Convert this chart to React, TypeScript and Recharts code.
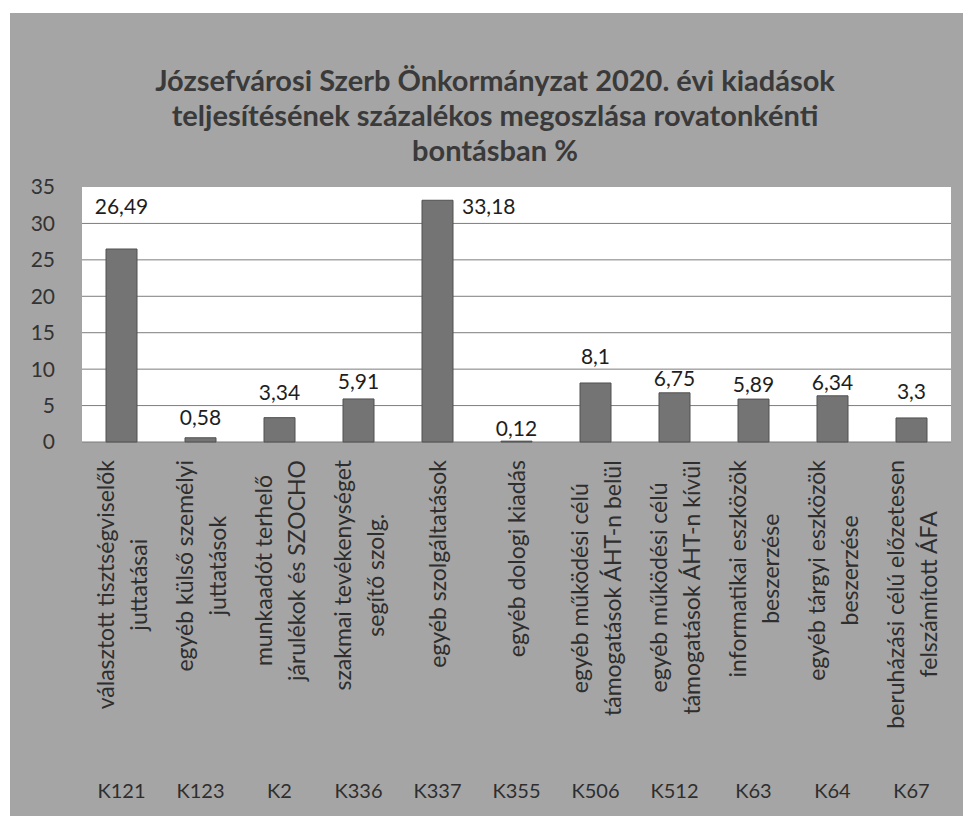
import React from "react"
import { BarChart, Bar, XAxis, YAxis, CartesianGrid } from "recharts"

const categories = ["K121", "K123", "K2", "K336", "K337", "K355", "K506", "K512", "K63", "K64", "K67"]

const shares = [26.49, 0.58, 3.34, 5.91, 33.18, 0.12, 8.1, 6.75, 5.89, 6.34, 3.3]

const descriptions = [
    ["választott tisztségviselők", "juttatásai"],
    ["egyéb külső személyi", "juttatások"],
    ["munkaadót terhelő", "járulékok és SZOCHO"],
    ["szakmai tevékenységet", "segítő szolg."],
    ["egyéb szolgáltatások"],
    ["egyéb dologi kiadás"],
    ["egyéb működési célú", "támogatások ÁHT-n belül"],
    ["egyéb működési célú", "támogatások ÁHT-n kívül"],
    ["informatikai eszközök", "beszerzése"],
    ["egyéb tárgyi eszközök", "beszerzése"],
    ["beruházási célú előzetesen", "felszámított ÁFA"],
]

const yTicks = [0, 5, 10, 15, 20, 25, 30, 35]

const titleLines = [
    "Józsefvárosi Szerb Önkormányzat 2020. évi kiadások",
    "teljesítésének százalékos megoszlása rovatonkénti",
    "bontásban %",
]

// how far above the bar top each value label sits (excel moved some by hand)
const labelLift = [44, 21, 26, 18, 0, 14, 27, 15, 16, 14, 27]

const data = categories.map((code, i) => ({ code, value: shares[i] }))

const FONT = "Lato, 'Open Sans', sans-serif"
const TEXT = "#2e2e2e"

let canvasCtx: CanvasRenderingContext2D | null = null
function measure(text: string, font: string) {
    if (!canvasCtx) canvasCtx = document.createElement("canvas").getContext("2d")
    if (!canvasCtx) return text.length * 10
    canvasCtx.font = font
    return canvasCtx.measureText(text).width
}

function CategoryTick(props: any) {
    const { x, y, index } = props
    const lines = descriptions[index] || []
    const fontSize = 23
    const maxLen = Math.max(...lines.map((l) => measure(l, `${fontSize}px Lato`)))
    const top = y + 18
    const gap = 33
    return (
        <g>
            {lines.map((line, i) => {
                const lx = x + (i - (lines.length - 1) / 2) * gap
                const ly = top + maxLen / 2
                return (
                    <text
                        key={i}
                        x={lx}
                        y={ly}
                        transform={`rotate(-90 ${lx} ${ly})`}
                        textAnchor="middle"
                        dominantBaseline="central"
                        fontFamily={FONT}
                        fontSize={fontSize}
                        fill={TEXT}
                    >
                        {line}
                    </text>
                )
            })}
            <text
                x={x}
                y={y + 348}
                textAnchor="middle"
                dominantBaseline="central"
                fontFamily={FONT}
                fontSize={20}
                fill={TEXT}
            >
                {categories[index]}
            </text>
        </g>
    )
}

function ValueLabel(props: any) {
    const { x, y, width, value } = props
    const index = props.index ?? shares.indexOf(value)
    const txt = String(value).replace(".", ",")
    if (index === 4) {
        return (
            <text
                x={x + width + 9}
                y={y + 5}
                textAnchor="start"
                dominantBaseline="central"
                fontFamily={FONT}
                fontSize={21}
                fill="#1e1e1e"
            >
                {txt}
            </text>
        )
    }
    return (
        <text
            x={x + width / 2}
            y={y - labelLift[index]}
            textAnchor="middle"
            dominantBaseline="central"
            fontFamily={FONT}
            fontSize={21}
            fill="#1e1e1e"
        >
            {txt}
        </text>
    )
}

export default function App() {
    return (
        <div
            style={{
                position: "absolute",
                left: 0,
                top: 0,
                width: 971,
                height: 816,
                background: "#ffffff",
                overflow: "hidden",
            }}
        >
            <div
                style={{
                    position: "absolute",
                    left: 10,
                    top: 13,
                    width: 953,
                    height: 803,
                    background: "#a5a5a5",
                }}
            />
            <div
                style={{
                    position: "absolute",
                    left: 0,
                    top: 62,
                    width: 990,
                    textAlign: "center",
                    fontFamily: FONT,
                    fontWeight: 700,
                    fontSize: 29,
                    lineHeight: "35px",
                    color: "#3a3a3a",
                }}
            >
                {titleLines.map((l, i) => (
                    <div key={i}>{l}</div>
                ))}
            </div>
            <div style={{ position: "absolute", left: 0, top: 0 }}>
                <BarChart
                    width={971}
                    height={816}
                    data={data}
                    margin={{ top: 187, right: 20, left: 0, bottom: 0 }}
                    barCategoryGap="0%"
                >
                    <CartesianGrid
                        vertical={false}
                        horizontalValues={yTicks.slice(0, -1)}
                        stroke="#7d7d7d"
                        fill="#ffffff"
                        fillOpacity={1}
                    />
                    <XAxis
                        dataKey="code"
                        height={374}
                        axisLine={false}
                        tickLine={false}
                        tickSize={0}
                        tickMargin={0}
                        interval={0}
                        tick={<CategoryTick />}
                    />
                    <YAxis
                        width={82}
                        domain={[0, 35]}
                        ticks={yTicks}
                        axisLine={false}
                        tickLine={false}
                        tickSize={0}
                        tickMargin={27}
                        tick={{ fontFamily: FONT, fontSize: 21, fill: "#333333" }}
                    />
                    <Bar
                        dataKey="value"
                        barSize={31}
                        fill="#747474"
                        stroke="#505050"
                        strokeWidth={1}
                        isAnimationActive={false}
                        label={<ValueLabel />}
                    />
                </BarChart>
            </div>
        </div>
    )
}
